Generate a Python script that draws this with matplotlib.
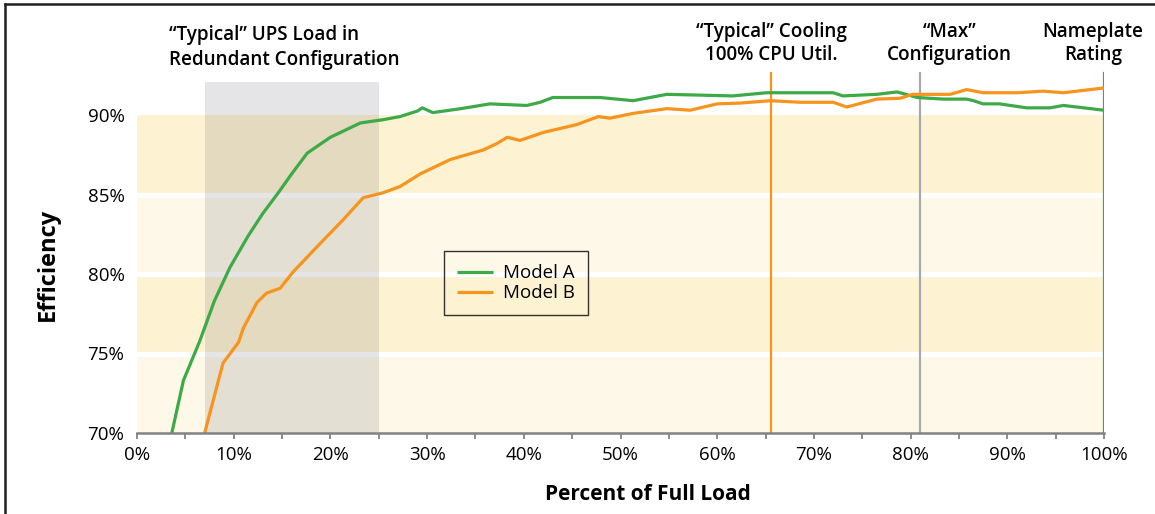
import numpy as np
import matplotlib
matplotlib.use('Agg')
import matplotlib.pyplot as plt
from matplotlib.lines import Line2D
from matplotlib.ticker import MultipleLocator, FuncFormatter

# load (%) / efficiency (%)
load_a = [3.6, 4.8, 6.5, 8.0, 9.6, 11.5, 13.0, 14.6, 16.0, 17.6, 20.0, 23.1, 25.4, 27.2,
          29.0, 29.5, 30.6, 33.5, 36.5, 40.3, 41.7, 43.0, 47.9, 51.3, 54.8, 61.6, 65.1,
          68.6, 72.0, 73.0, 76.5, 78.6, 80.7, 83.4, 85.8, 86.5, 87.5, 89.2, 92.0, 94.4,
          95.8, 100.0]
eff_a = [70.0, 73.3, 75.8, 78.3, 80.4, 82.4, 83.8, 85.1, 86.3, 87.6, 88.6, 89.5, 89.7, 89.9,
         90.25, 90.45, 90.15, 90.4, 90.7, 90.6, 90.8, 91.1, 91.1, 90.9, 91.3, 91.2, 91.4,
         91.4, 91.4, 91.2, 91.3, 91.45, 91.1, 91.0, 91.0, 90.9, 90.7, 90.7, 90.45, 90.45,
         90.6, 90.3]

load_b = [7.0, 7.9, 8.9, 10.5, 11.0, 12.4, 13.4, 14.8, 16.1, 18.6, 21.3, 23.4, 25.4, 27.2,
          29.3, 32.4, 35.8, 37.2, 38.3, 39.6, 42.0, 45.5, 47.7, 48.9, 51.3, 54.8, 57.2,
          60.0, 62.4, 65.5, 68.6, 72.0, 73.4, 76.5, 78.9, 80.2, 84.1, 85.8, 87.5, 91.0,
          93.7, 95.8, 100.0]
eff_b = [70.0, 72.1, 74.4, 75.7, 76.6, 78.2, 78.8, 79.1, 80.1, 81.7, 83.4, 84.8, 85.1, 85.5,
         86.3, 87.2, 87.8, 88.2, 88.6, 88.4, 88.9, 89.4, 89.9, 89.8, 90.1, 90.4, 90.3,
         90.7, 90.75, 90.9, 90.8, 90.8, 90.5, 91.0, 91.05, 91.3, 91.3, 91.6, 91.4, 91.4,
         91.5, 91.4, 91.7]

band_dark = [(85, 90), (75, 80)]
band_light = [(80, 85), (70, 75)]
typical_ups = (7, 25)
markers = [65.6, 81.0, 100.0]
marker_colors = ['#F7941D', '#A7A9AC', '#3DAA47']
marker_labels = ['\u201cTypical\u201d Cooling\n100% CPU Util.', '\u201cMax\u201d\nConfiguration',
                 'Nameplate\nRating']
marker_label_x = [65.6, 84.0, 98.85]

plt.rcParams['font.family'] = ['Open Sans', 'DejaVu Sans']

fig = plt.figure(figsize=(11.55, 5.14), dpi=100)
ax = fig.add_axes([137 / 1155, 81 / 514, 967 / 1155, 397.5 / 514])
ax.set_xlim(0, 100)
ax.set_ylim(70, 95)

for lo, hi in band_dark:
    ax.axhspan(lo, hi, xmin=0, xmax=1, color='#FDF3D2', lw=0, zorder=1)
for lo, hi in band_light:
    ax.axhspan(lo, hi, xmin=0, xmax=1, color='#FEF8E8', lw=0, zorder=1)
for y in [75, 80, 85]:
    ax.axhline(y, color='white', lw=3.8, zorder=1.5)

# grey "typical load" box (multiplied look)
ax.fill_between(typical_ups, 70, 92.05, color='#00051E', alpha=0.1, lw=0, zorder=2)

for x, c in zip(markers, marker_colors):
    ax.plot([x, x], [70, 92.65], color=c, lw=1.6, zorder=3)

ax.plot(load_a, eff_a, color='#3DAA47', lw=2.3, label='Model A', zorder=4,
        solid_capstyle='butt')
ax.plot(load_b, eff_b, color='#F7941D', lw=2.3, label='Model B', zorder=4,
        solid_capstyle='butt')

for x, t in zip(marker_label_x, marker_labels):
    ax.text(x, 94.5, t, ha='center', va='center', fontsize=13.6, fontweight='semibold',
            linespacing=1.25, clip_on=False)
ax.text(3.3, 94.25, '\u201cTypical\u201d UPS Load in\nRedundant Configuration', ha='left',
        va='center', fontsize=13.6, fontweight='semibold', linespacing=1.3, clip_on=False)

for s in ['top', 'right', 'left']:
    ax.spines[s].set_visible(False)
ax.spines['bottom'].set_color('#808285')
ax.spines['bottom'].set_linewidth(1.8)
ax.spines['bottom'].set_zorder(5)

ax.xaxis.set_major_locator(MultipleLocator(10))
ax.xaxis.set_minor_locator(MultipleLocator(5))
ax.xaxis.set_major_formatter(FuncFormatter(lambda v, p: '%d%%' % v))
ax.tick_params(axis='x', which='both', direction='out', length=4, width=1.3,
               color='#808285', labelsize=13.5, pad=5)
ax.set_yticks([70, 75, 80, 85, 90])
ax.yaxis.set_major_formatter(FuncFormatter(lambda v, p: '%d%%' % v))
ax.tick_params(axis='y', length=0, labelsize=13.5, pad=9)

ax.set_xlabel('Percent of Full Load', fontsize=15, fontweight='bold')
ax.xaxis.set_label_coords(0.528, -0.128)
ax.set_ylabel('Efficiency', fontsize=17, fontweight='bold')
ax.yaxis.set_label_coords(-0.080, 0.423)

leg = ax.legend(loc='upper left', bbox_to_anchor=(0.3175, 0.458), fontsize=13.5,
                frameon=True, fancybox=False, handlelength=1.9, borderpad=0.7,
                labelspacing=0.12, borderaxespad=0, handletextpad=0.55)
leg.get_frame().set_edgecolor('black')
leg.get_frame().set_facecolor('none')
leg.get_frame().set_linewidth(1.0)

# frame lines at the left and top of the figure
fig.add_artist(Line2D([5 / 1155, 5 / 1155], [0, 1 - 4 / 514], color='#231F20', lw=1.8,
                      transform=fig.transFigure))
fig.add_artist(Line2D([5 / 1155, 1], [1 - 4 / 514, 1 - 4 / 514], color='#231F20', lw=1.8,
                      transform=fig.transFigure))

fig.savefig('out.png', dpi=100)
